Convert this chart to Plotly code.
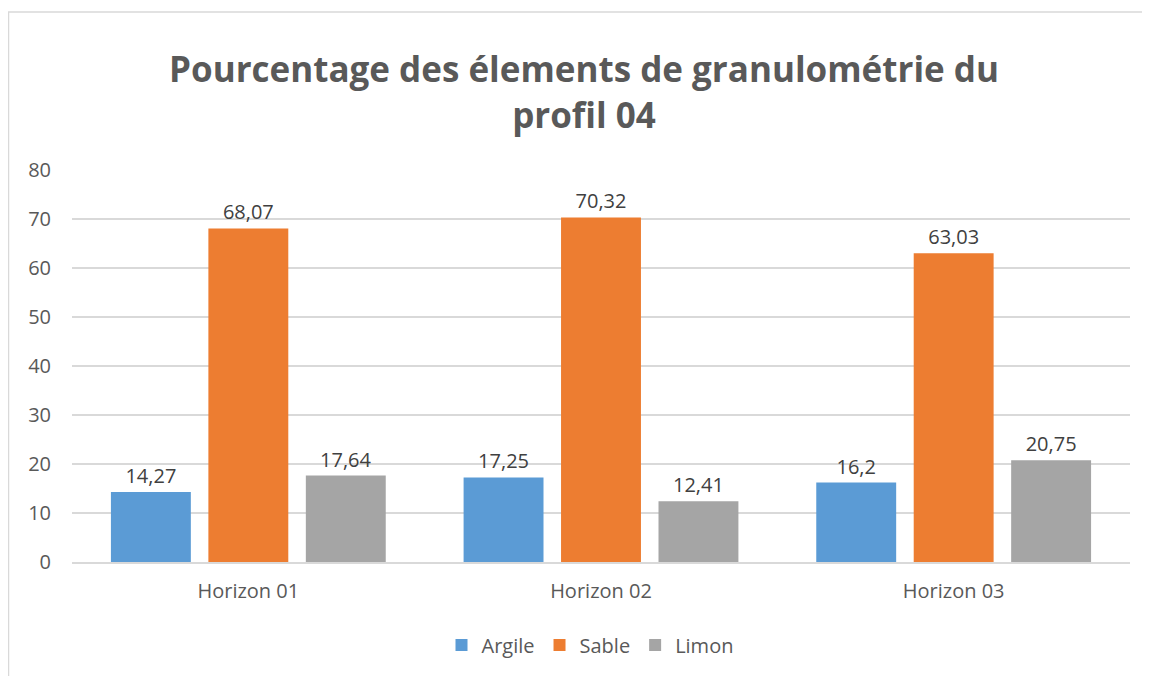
import plotly.graph_objects as go

categories = ["Horizon 01", "Horizon 02", "Horizon 03"]
series_names = ["Argile", "Sable", "Limon"]
argile = [14.27, 17.25, 16.2]
sable = [68.07, 70.32, 63.03]
limon = [17.64, 12.41, 20.75]
y_ticks = [0, 10, 20, 30, 40, 50, 60, 70, 80]

colors = ["#5b9bd5", "#ed7d31", "#a5a5a5"]
OFF = 8  # page body margin
W, H = 1150 - OFF, 676 - OFF
ML, MR, MT, MB = 72 - OFF, 20, 170 - OFF, 114

def fmt(v):
    return str(v).replace(".", ",")

fig = go.Figure()
for name, vals, c in zip(series_names, [argile, sable, limon], colors):
    fig.add_trace(go.Bar(
        x=categories, y=vals, name=name,
        marker=dict(color=c, line=dict(width=0)),
        text=[fmt(v) for v in vals], textposition="outside",
        textfont=dict(family="Open Sans", size=20, color="#404040"),
        cliponaxis=False,
    ))

pw = W - ML - MR
ph = H - MT - MB
def px_x(px):
    return (px - OFF - ML) / pw
def px_y(py):
    return (H - MB - (py - OFF)) / ph

fig.update_layout(
    width=W, height=H,
    margin=dict(l=ML, r=MR, t=MT, b=MB),
    paper_bgcolor="white", plot_bgcolor="white",
    barmode="group", bargap=0.171, bargroupgap=0.18,
    title=dict(
        text="<b>Pourcentage des élements de granulométrie du<br>profil 04</b>",
        x=(584 - OFF) / W, xanchor="center", y=1 - (82 - OFF) / H, yanchor="middle",
        xref="container", yref="container",
        font=dict(family="Open Sans", size=35, color="#595959"),
    ),
    font=dict(family="Open Sans", color="#595959"),
    legend=dict(
        orientation="h", x=px_x(590), xanchor="center",
        y=px_y(645), yanchor="middle",
        font=dict(family="Open Sans", size=20, color="#595959"),
        itemwidth=30, traceorder="normal",
    ),
    xaxis=dict(
        showgrid=False, showline=True, linecolor="#d9d9d9", linewidth=1.5,
        ticks="outside", ticklen=10, tickcolor="rgba(0,0,0,0)",
        tickfont=dict(family="Open Sans", size=20, color="#595959"),
    ),
    yaxis=dict(
        range=[0, 80], tickvals=y_ticks,
        showgrid=True, gridcolor="#d9d9d9", gridwidth=1.5,
        zeroline=False, showline=False,
        ticks="outside", ticklen=16, tickcolor="rgba(0,0,0,0)",
        tickfont=dict(family="Open Sans", size=20, color="#595959"),
    ),
    showlegend=True,
)

fig.add_shape(
    type="rect", xref="paper", yref="paper",
    x0=px_x(8.5), x1=px_x(1160), y0=px_y(700), y1=px_y(12),
    line=dict(color="#d9d9d9", width=1.5), fillcolor="rgba(0,0,0,0)",
    layer="below",
)

fig.write_html("out.html")
